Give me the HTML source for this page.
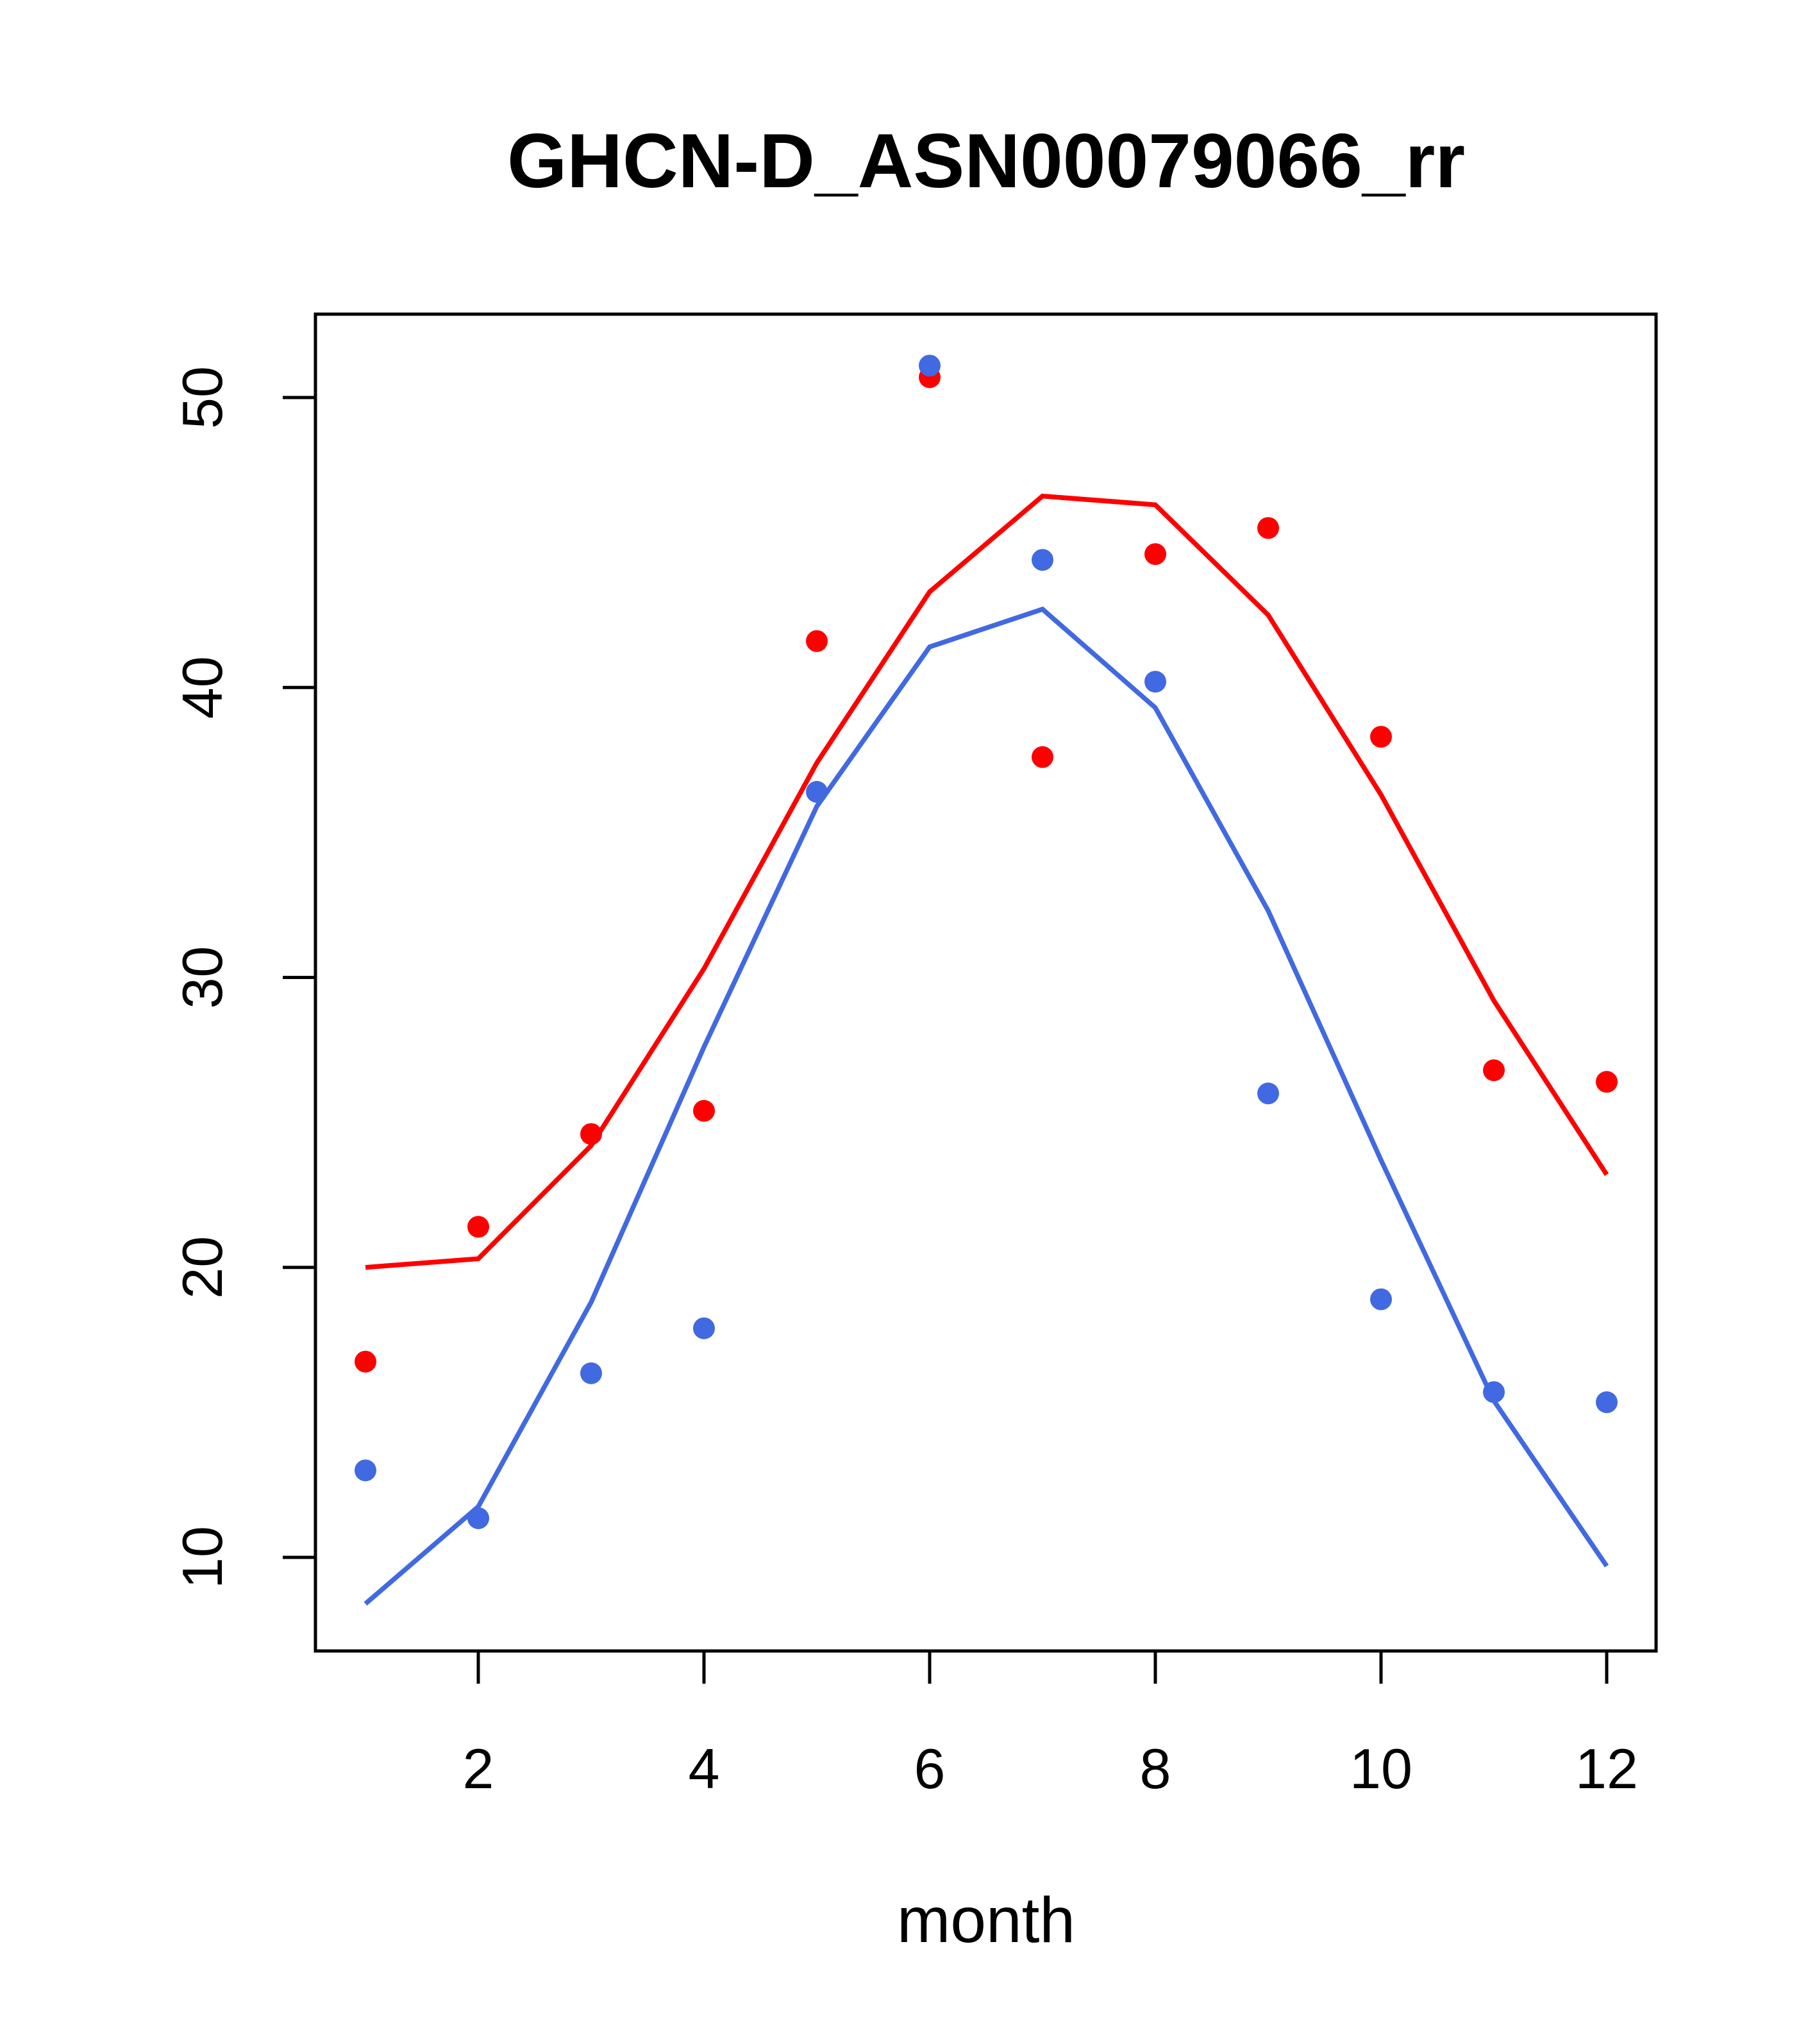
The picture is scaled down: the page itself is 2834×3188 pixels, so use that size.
<!DOCTYPE html>
<html><head><meta charset="utf-8"><style>body{margin:0;background:#fff}svg{display:block}</style></head>
<body>
<svg id="chart" width="2834" height="3188" xmlns="http://www.w3.org/2000/svg" font-family="Liberation Sans, sans-serif">
<rect width="2834" height="3188" fill="#fff"/>
<text x="1538" y="292" font-size="120" font-weight="bold" text-anchor="middle">GHCN-D_ASN00079066_rr</text>
<rect x="492" y="490" width="2091" height="2085" fill="none" stroke="#000" stroke-width="5"/>
<text x="1538" y="3029" font-size="100" text-anchor="middle">month</text>
<g id="axes"></g><g id="marks"></g>
</svg>
<script>
const months=[1,2,3,4,5,6,7,8,9,10,11,12];
const redPoints=[16.75,21.4,24.6,25.4,41.6,50.7,37.6,44.6,45.5,38.3,26.8,26.4];
const bluePoints=[13.0,11.35,16.35,17.9,36.4,51.1,44.4,40.2,26.0,18.9,15.7,15.35];
const redLine=[20.0,20.3,24.2,30.3,37.4,43.3,46.6,46.3,42.5,36.3,29.2,23.2];
const blueLine=[8.4,11.75,18.8,27.6,35.9,41.4,42.7,39.3,32.3,23.7,15.4,9.7];
const xTicks=[2,4,6,8,10,12];
const yTicks=[10,20,30,40,50];
const NS="http://www.w3.org/2000/svg";
const xs=m=>746+(m-2)*(2506-746)/10;
const ys=v=>2429-(v-10)*(2429-620)/40;
const axes=document.getElementById('axes'),marks=document.getElementById('marks');
function mk(tag,attrs,parent){const e=document.createElementNS(NS,tag);for(const k in attrs)e.setAttribute(k,attrs[k]);parent.appendChild(e);return e;}
xTicks.forEach(t=>{
  const l=mk('line',{x1:xs(t),x2:xs(t),y1:2575,y2:2626,stroke:'#000','stroke-width':5},axes);
  
  
  const tx=mk('text',{x:xs(t),y:2789,'font-size':88,'text-anchor':'middle'},axes);tx.textContent=t;
  
  
});
yTicks.forEach(t=>{
  const l=mk('line',{x1:441,x2:492,y1:ys(t),y2:ys(t),stroke:'#000','stroke-width':5},axes);
  
  
  const tx=mk('text',{x:0,y:0,'font-size':88,'text-anchor':'middle',transform:`translate(346,${ys(t)}) rotate(-90)`},axes);tx.textContent=t;
  
  
});
function line(data,color,name){
  const p=mk('polyline',{points:months.map((m,i)=>xs(m)+','+ys(data[i])).join(' '),fill:'none',stroke:color,'stroke-width':7.5},marks);
  
  
}
function pts(data,color,name){
  months.forEach((m,i)=>{
    const c=mk('circle',{cx:xs(m),cy:ys(data[i]),r:17,fill:color},marks);
    
    
  });
}
line(redLine,'#ff0000','red-line');
line(blueLine,'#4169e1','blue-line');
pts(redPoints,'#ff0000','red-point');
pts(bluePoints,'#4169e1','blue-point');
</script>
</body></html>
